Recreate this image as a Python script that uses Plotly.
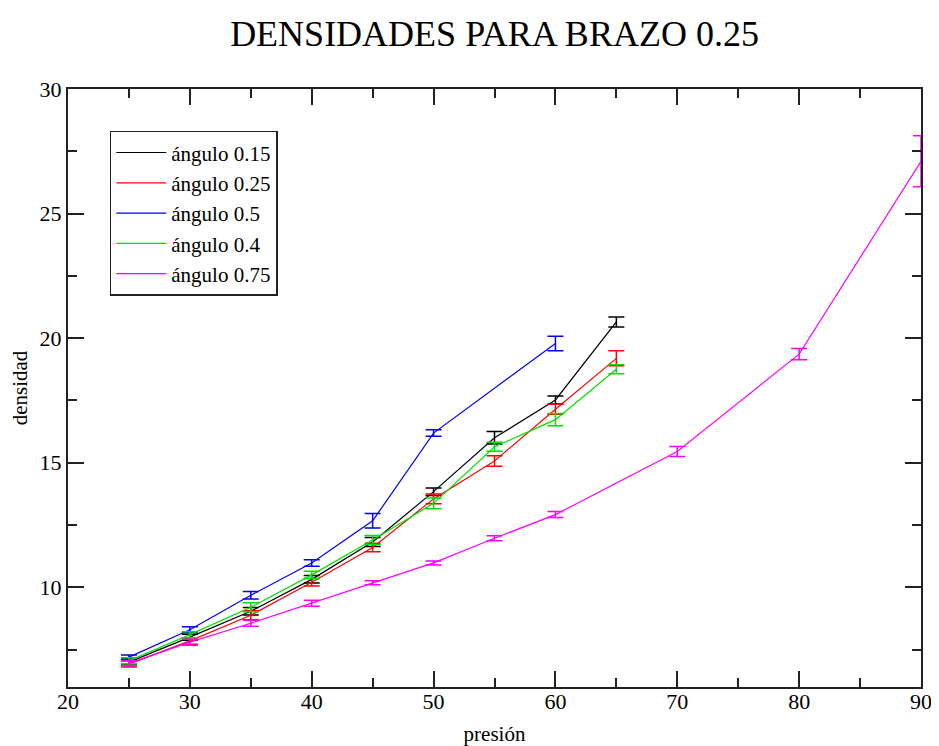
import plotly.graph_objects as go

presion_a = [25, 30, 35, 40, 45, 50, 55, 60, 65]
presion_b = [25, 30, 35, 40, 45, 50, 60]
presion_c = [25, 30, 35, 40, 45, 50, 55, 60, 70, 80, 90]

dens_015 = [7.0, 8.0, 9.04, 10.32, 11.82, 13.84, 16.0, 17.52, 20.65]
err_015 = [0.12, 0.12, 0.15, 0.15, 0.18, 0.15, 0.25, 0.16, 0.2]

dens_025 = [6.92, 7.85, 8.88, 10.2, 11.6, 13.55, 15.07, 17.15, 19.19]
err_025 = [0.12, 0.13, 0.18, 0.15, 0.17, 0.2, 0.21, 0.2, 0.3]

dens_05 = [7.2, 8.3, 9.68, 10.98, 12.67, 16.19, 19.79]
err_05 = [0.08, 0.12, 0.15, 0.13, 0.29, 0.13, 0.29]

dens_04 = [7.05, 8.1, 9.2, 10.5, 11.9, 13.37, 15.64, 16.73, 18.75]
err_04 = [0.12, 0.12, 0.18, 0.15, 0.18, 0.22, 0.18, 0.25, 0.18]

dens_075 = [6.95, 7.8, 8.56, 9.36, 10.18, 10.98, 11.97, 12.92, 15.45, 19.36, 27.1]
err_075 = [0.1, 0.12, 0.12, 0.12, 0.08, 0.08, 0.1, 0.12, 0.2, 0.23, 1.02]

series = [
    ("ángulo 0.15", presion_a, dens_015, err_015, "#000000"),
    ("ángulo 0.25", presion_a, dens_025, err_025, "#ff0000"),
    ("ángulo 0.5", presion_b, dens_05, err_05, "#0000ff"),
    ("ángulo 0.4", presion_a, dens_04, err_04, "#00e000"),
    ("ángulo 0.75", presion_c, dens_075, err_075, "#ff00ff"),
]

FONT = "Liberation Serif, Times New Roman, DejaVu Serif, serif"

fig = go.Figure()
for name, xs, ys, es, col in series:
    fig.add_trace(go.Scatter(
        x=xs, y=ys, name=name, mode="lines",
        line=dict(color=col, width=1.2),
        error_y=dict(type="data", array=es, visible=True, color=col,
                     thickness=1.5, width=8),
        cliponaxis=True,
    ))

axis_common = dict(
    showgrid=False, zeroline=False, showline=True, linecolor="#222222",
    linewidth=2, mirror="ticks", ticks="inside", ticklen=16, tickwidth=2,
    tickcolor="#222222", automargin=False,
    tickfont=dict(family=FONT, size=22, color="#000000"),
)

fig.update_xaxes(
    range=[20, 90], dtick=10, tick0=20, ticklabelstandoff=-6,
    minor=dict(dtick=5, ticks="inside", ticklen=9, tickwidth=2, tickcolor="#222222"),
    title=dict(text="presión", font=dict(family=FONT, size=21, color="#000000"), standoff=13),
    **axis_common,
)
fig.update_yaxes(
    range=[6, 30], tickvals=[10, 15, 20, 25, 30],
    minor=dict(tickvals=[7.5, 12.5, 17.5, 22.5, 27.5], ticks="inside", ticklen=9,
               tickwidth=2, tickcolor="#222222"),
    title=dict(text="densidad", font=dict(family=FONT, size=21, color="#000000"), standoff=9),
    **axis_common,
)

fig.update_layout(
    width=931, height=738,
    margin=dict(l=60, r=18, t=81, b=59),
    paper_bgcolor="white", plot_bgcolor="white",
    title=dict(text="DENSIDADES PARA BRAZO 0.25", x=0.5, xref="paper", xanchor="center",
               y=0.966, yanchor="middle",
               font=dict(family=FONT, size=36, color="#000000")),
    legend=dict(
        x=0.049, y=0.93, xanchor="left", yanchor="top",
        bgcolor="white", bordercolor="#222222", borderwidth=1.5,
        font=dict(family=FONT, size=21, color="#000000"),
        tracegroupgap=0, itemwidth=50,
    ),
    showlegend=True,
)

fig.write_html("out.html")
